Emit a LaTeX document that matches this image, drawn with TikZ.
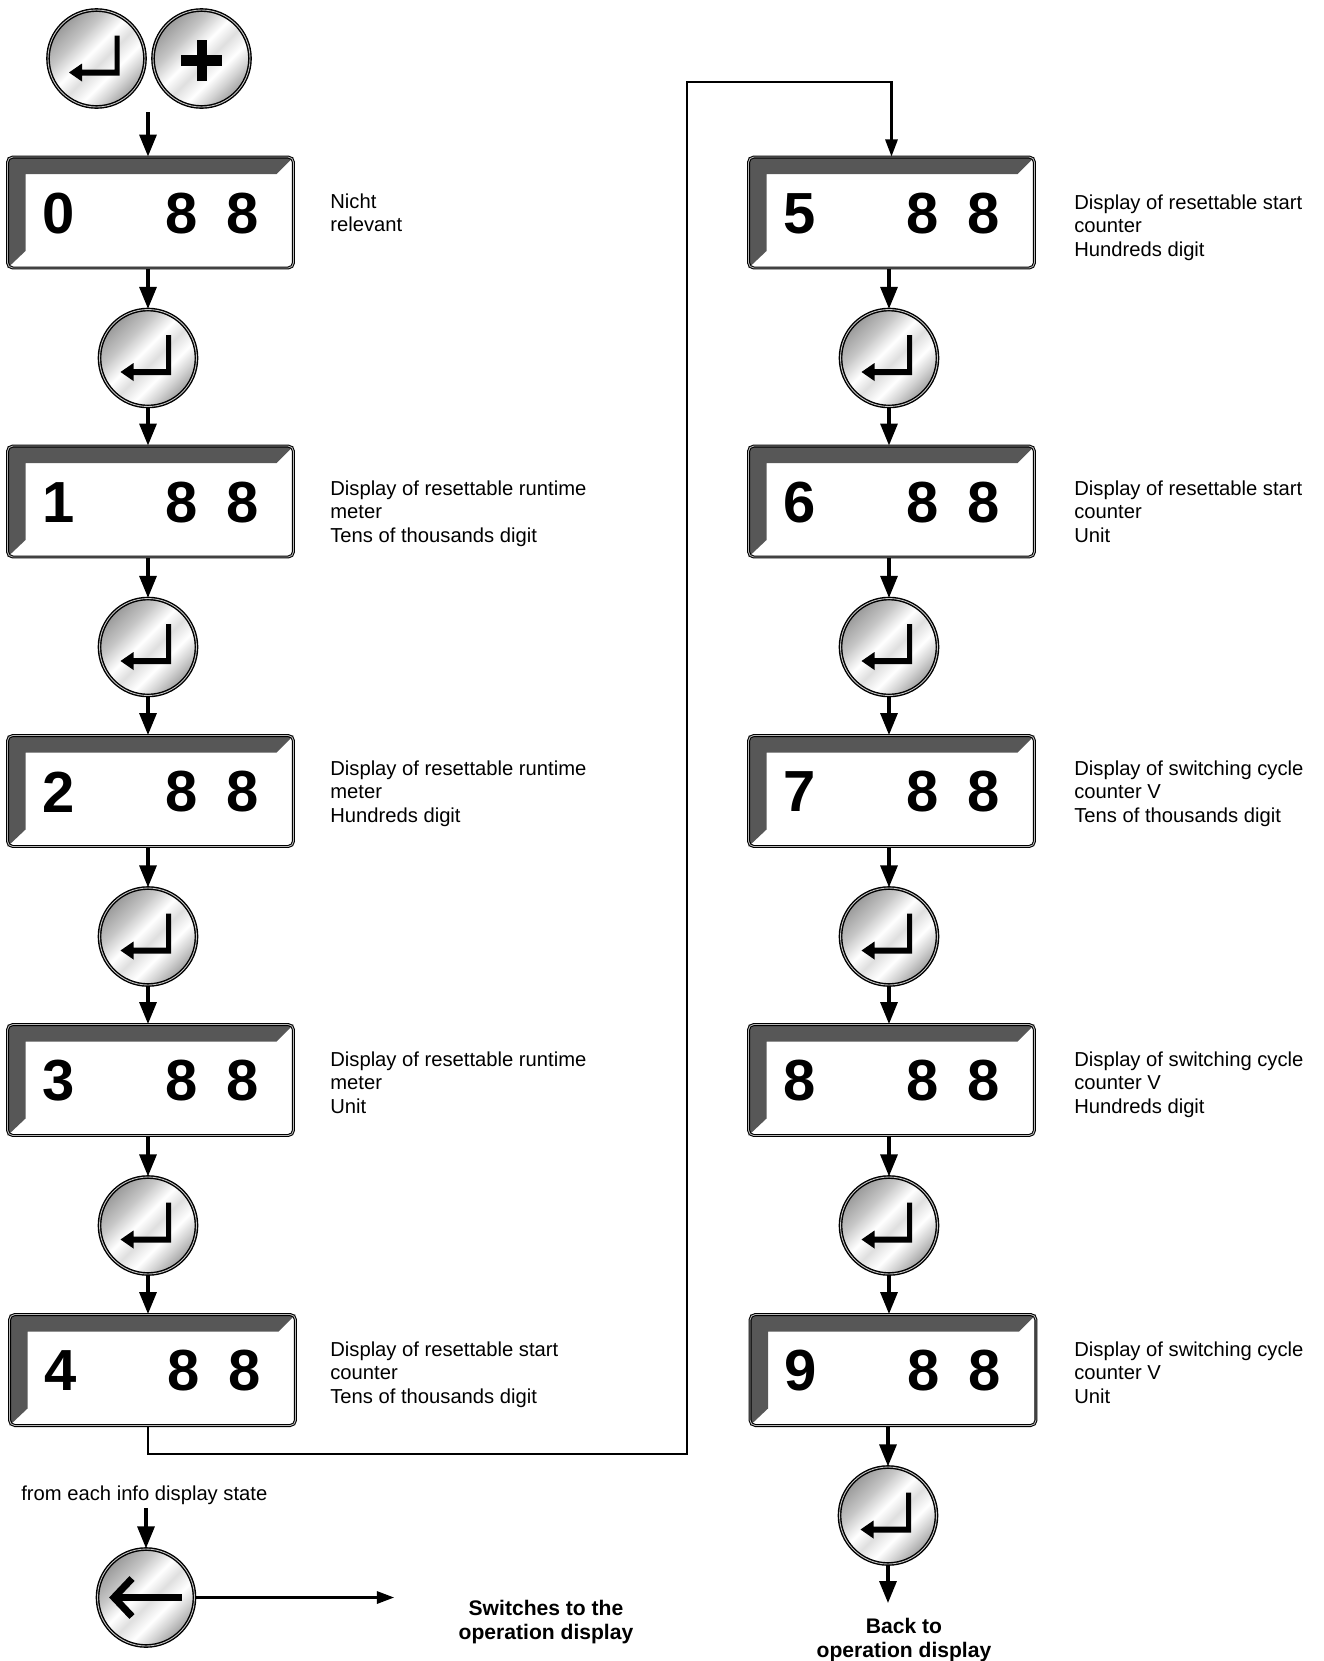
\documentclass[tikz,border=0pt]{standalone}
\usepackage{fontspec}
\setmainfont{Liberation Sans}
\usetikzlibrary{arrows.meta,calc}

\pgfdeclarehorizontalshading{metal}{100bp}{color(0bp)=(gray!85);color(25bp)=(gray!80);color(36bp)=(gray!45);color(46bp)=(white);color(53bp)=(gray!25);color(61bp)=(white);color(68bp)=(gray!35);color(75bp)=(gray!75);color(100bp)=(gray!85)}

\begin{document}
\begin{tikzpicture}[x=0.02cm,y=-0.02cm,
  every node/.style={font=\fontsize{11.5}{13.4}\selectfont},
  dispframe/.style={draw=black,line width=0.6pt,double=gray!55,double distance=0.5pt,rounded corners=3pt,minimum width=5.72cm,minimum height=2.22cm,inner sep=0pt},
  bevel/.style={fill=black!66},
  digitfont/.style={font=\fontsize{33}{33}\bfseries\selectfont,inner sep=0pt},
  keybtn/.style={circle,draw=black,line width=0.8pt,double=gray!45,double distance=0.5pt,shading=metal,shading angle=-45,minimum size=1.94cm,inner sep=0pt},
  infotext/.style={anchor=north west,align=left,inner sep=0pt},
  endtext/.style={anchor=north,align=center,inner sep=0pt,font=\fontsize{12}{13.6}\bfseries\selectfont},
  flowarrow/.style={line width=1.8pt,-{Triangle[length=12.5pt,width=9.7pt]}},
  thinflow/.style={line width=1.2pt,-{Triangle[length=9.7pt,width=7pt]}}]
  \useasboundingbox (0,0) rectangle (1323,1661);
  \newcommand{\dispbox}[4]{
    \begin{scope}[shift={(#2,#3)}]
      \fill[bevel] (-143,-55.5) -- (143,-55.5) -- (126,-38.5) -- (-125,-38.5) -- (-125,38.5) -- (-143,55.5) -- cycle;
      \node[dispframe] (#1) at (0,0) {};
      \node[digitfont] (#1a) at (-92,1) {#4};
      \node[digitfont] (#1b) at (31,1) {8};
      \node[digitfont] (#1c) at (92,1) {8};
    \end{scope}
  }
  \newcommand{\enterkey}[3]{
    \node[keybtn] (#1) at (#2,#3) {};
    \fill[shift={(#2,#3)}] (18,-23) -- (23,-23) -- (23,17) -- (-14.5,17) -- (-14.5,23) -- (-27.5,14) -- (-14.5,5) -- (-14.5,11) -- (18,11) -- cycle;
  }

  \enterkey{e0}{96.5}{58.5}
  \node[keybtn] (plus) at (201.5,58.5) {};
  \fill (181,55) rectangle (222,65.5);
  \fill (196.5,39.5) rectangle (207,80.5);
  \coordinate (start) at (148,112);

  \dispbox{d0}{150.5}{212.5}{0}
  \dispbox{d1}{150.5}{501.5}{1}
  \dispbox{d2}{150.5}{791}{2}
  \dispbox{d3}{150.5}{1080}{3}
  \dispbox{d4}{152.5}{1370}{4}
  \dispbox{d5}{891.5}{212.5}{5}
  \dispbox{d6}{891.5}{501.5}{6}
  \dispbox{d7}{891.5}{791}{7}
  \dispbox{d8}{891.5}{1080}{8}
  \dispbox{d9}{893}{1370}{9}

  \enterkey{b1}{148}{358}
  \enterkey{b2}{148}{647}
  \enterkey{b3}{148}{936.5}
  \enterkey{b4}{148}{1225.5}
  \enterkey{b6}{889}{358}
  \enterkey{b7}{889}{647}
  \enterkey{b8}{889}{936.5}
  \enterkey{b9}{889}{1225.5}
  \enterkey{b10}{888}{1515.5}

  \node[infotext] (t0) at (330,193) {Nicht\\relevant};
  \node[infotext] (t1) at (330,480) {Display of resettable runtime\\meter\\Tens of thousands digit};
  \node[infotext] (t2) at (330,760) {Display of resettable runtime\\meter\\Hundreds digit};
  \node[infotext] (t3) at (330,1051) {Display of resettable runtime\\meter\\Unit};
  \node[infotext] (t4) at (330,1341) {Display of resettable start\\counter\\Tens of thousands digit};
  \node[infotext] (t5) at (1074,194) {Display of resettable start\\counter\\Hundreds digit};
  \node[infotext] (t6) at (1074,480) {Display of resettable start\\counter\\Unit};
  \node[infotext] (t7) at (1074,760) {Display of switching cycle\\counter V\\Tens of thousands digit};
  \node[infotext] (t8) at (1074,1051) {Display of switching cycle\\counter V\\Hundreds digit};
  \node[infotext] (t9) at (1074,1341) {Display of switching cycle\\counter V\\Unit};

  \draw[flowarrow] (start) -- (d0.north -| start);
  \draw[flowarrow] (d0.south -| b1) -- (b1.north);
  \draw[flowarrow] (b1.south) -- (b1 |- d1.north);
  \draw[flowarrow] (d1.south -| b2) -- (b2.north);
  \draw[flowarrow] (b2.south) -- (b2 |- d2.north);
  \draw[flowarrow] (d2.south -| b3) -- (b3.north);
  \draw[flowarrow] (b3.south) -- (b3 |- d3.north);
  \draw[flowarrow] (d3.south -| b4) -- (b4.north);
  \draw[flowarrow] (b4.south) -- (b4 |- d4.north);
  \draw[flowarrow] (d5.south -| b6) -- (b6.north);
  \draw[flowarrow] (b6.south) -- (b6 |- d6.north);
  \draw[flowarrow] (d6.south -| b7) -- (b7.north);
  \draw[flowarrow] (b7.south) -- (b7 |- d7.north);
  \draw[flowarrow] (d7.south -| b8) -- (b8.north);
  \draw[flowarrow] (b8.south) -- (b8 |- d8.north);
  \draw[flowarrow] (d8.south -| b9) -- (b9.north);
  \draw[flowarrow] (b9.south) -- (b9 |- d9.north);
  \draw[flowarrow] (d9.south -| b10) -- (b10.north);

  \coordinate (loopa) at (687,1454);
  \coordinate (loopb) at (687,82);
  \draw[thinflow] (d4.south -| b4) |- (loopa) -- (loopb) -| (d5.north);

  \coordinate (backend) at (888,1603);
  \draw[flowarrow] (b10.south) -- (backend);
  \node[endtext] (backtxt) at (904,1618) {Back to\\operation display};

  \node[infotext] (fromtxt) at (21,1485) {from each info display state};
  \node[keybtn] (back) at (146,1597.5) {};
  \draw[line width=4.5pt,shift={(146,1597.5)}] (36,0) -- (-30,0);
  \draw[line width=4pt,shift={(146,1597.5)}] (-14,-19) -- (-32,0) -- (-14,19);
  \draw[flowarrow,shorten <=2pt] (back |- fromtxt.south) -- (back.north);
  \coordinate (swend) at (394,1597.5);
  \draw[thinflow] (back.east) -- (swend);
  \node[endtext] (switchtxt) at (546,1600) {Switches to the\\operation display};
\end{tikzpicture}
\end{document}
